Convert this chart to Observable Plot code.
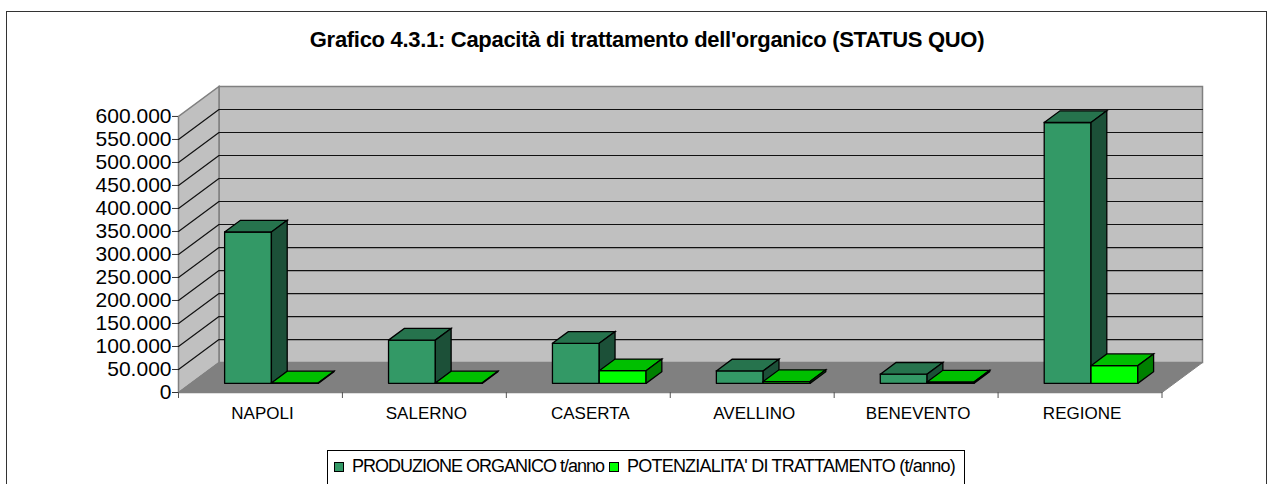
<!DOCTYPE html>
<html><head><meta charset="utf-8">
<script src="https://cdn.jsdelivr.net/npm/d3@7"></script>
<script src="https://cdn.jsdelivr.net/npm/@observablehq/plot@0.6"></script>
<style>
html,body{margin:0;padding:0;background:#fff;overflow:hidden}
#wrap{position:relative;width:1276px;height:484px;font-family:"Liberation Sans",Arial,sans-serif;color:#000}
#frame{position:absolute;left:6px;top:11px;width:1261px;height:480px;border:1.5px solid #333;box-sizing:border-box}
#title{position:absolute;left:0;width:1294px;top:27px;text-align:center;font-weight:bold;font-size:22px;letter-spacing:-.3px;white-space:nowrap}
#legend{position:absolute;left:327px;top:450px;width:638px;height:40px;box-sizing:border-box;border:1px solid #000;background:#fff;font-size:18px;white-space:nowrap}
#legend i{position:absolute;top:11px;width:8px;height:8px;border:1px solid #000}
#legend span{position:absolute;top:5px}
svg{position:absolute;left:0;top:0;background:transparent!important}
</style></head><body>
<div id="wrap"><div id="frame"></div><div id="title">Grafico 4.3.1: Capacità di trattamento dell'organico (STATUS QUO)</div><div id="chart"></div><div id="legend"></div></div>
<script>
const categories = ["NAPOLI","SALERNO","CASERTA","AVELLINO","BENEVENTO","REGIONE"];
const produzione = [329000, 94000, 87000, 27000, 20000, 567000];
const potenzialita = [1000, 1000, 27500, 4000, 3000, 38500];
const seriesNames = ["PRODUZIONE ORGANICO t/anno","POTENZIALITA' DI TRATTAMENTO (t/anno)"];
const yTicks = d3.range(0, 600001, 50000);

// oblique 3D projection, in data units
const kx = 0.247, ky = 65100;
const P = (c, v, d) => ({x: c + d * kx, y: v + d * ky});
const poly = (pts, fill, stroke, strokeWidth) => Plot.line([...pts, pts[0]], {x:"x", y:"y", fill, stroke, strokeWidth, strokeLinejoin:"miter", strokeMiterlimit:4});

const n = categories.length, yMax = 600000;
const walls = [
  poly([P(0,0,1),P(n,0,1),P(n,yMax,1),P(0,yMax,1)], "#C0C0C0", "#808080", 1.5),
  poly([P(0,0,0),P(0,0,1),P(0,yMax,1),P(0,yMax,0)], "#C0C0C0", "#808080", 1.5),
  poly([P(0,0,0),P(n,0,0),P(n,0,1),P(0,0,1)], "#808080", "#808080", 1)
];
const grid = yTicks.slice(1, -1).flatMap(v => [
  Plot.line([P(0,v,0),P(0,v,1),P(n,v,1)], {x:"x", y:"y", stroke:"#111", strokeWidth:1.2})
]);

const d0 = 0.305, d1 = 0.695, off = 0.206, bw = 0.2855;
const palette = [
  {front:"#339966", top:"#26734D", side:"#1C5038"},
  {front:"#00FF00", top:"#00BF00", side:"#008000"}
];
function box(i, s, v) {
  const a = i + off + s * bw, b = a + bw, c = palette[s];
  return [
    poly([P(a,0,d0),P(b,0,d0),P(b,v,d0),P(a,v,d0)], c.front, "#000", 1.3),
    poly([P(a,v,d0),P(b,v,d0),P(b,v,d1),P(a,v,d1)], c.top, "#000", 1.3),
    poly([P(b,0,d0),P(b,0,d1),P(b,v,d1),P(b,v,d0)], c.side, "#000", 1.3)
  ];
}
const bars = categories.flatMap((_, i) => [...box(i,0,produzione[i]), ...box(i,1,potenzialita[i])]);

const fmt = v => d3.format(",")(v).replace(/,/g, ".");
const chart = Plot.plot({
  width: 1276, height: 484,
  marginLeft: 178, marginRight: 74, marginTop: 86, marginBottom: 92,
  style: {background:"transparent", fontFamily:'"Liberation Sans",Arial,sans-serif'},
  x: {domain:[0, n + kx], axis:null},
  y: {domain:[0, yMax + ky], axis:null},
  marks: [
    ...walls, ...grid, ...bars,
    Plot.ruleY([0], {x1:0, x2:n, stroke:"#808080", strokeWidth:1.5}),
    Plot.axisY({ticks:yTicks, tickFormat:fmt, tickSize:6, tickPadding:1, stroke:"#333", fontSize:21, letterSpacing:"-1.2px", anchor:"left", label:null}),
    Plot.axisX({ticks:d3.range(0, n + 1), tickFormat:()=>"", tickSize:6, stroke:"#555", label:null, anchor:"bottom"}),
    Plot.axisX({ticks:d3.range(0, n).map(i => i + .5), tickFormat:t => categories[t - .5], tickSize:0, tickPadding:14.5, dx:2, fontSize:17, letterSpacing:"-1.7px", label:null, anchor:"bottom"})
  ]
});
document.getElementById("chart").appendChild(chart);
const lx = [[6,24,-1],[281,299,-.78]];
document.getElementById("legend").innerHTML = seriesNames.map((t,i) => `<i style="left:${lx[i][0]}px;background:${palette[i].front}"></i><span style="left:${lx[i][1]}px;letter-spacing:${lx[i][2]}px">${t}</span>`).join("");
</script></body></html>
